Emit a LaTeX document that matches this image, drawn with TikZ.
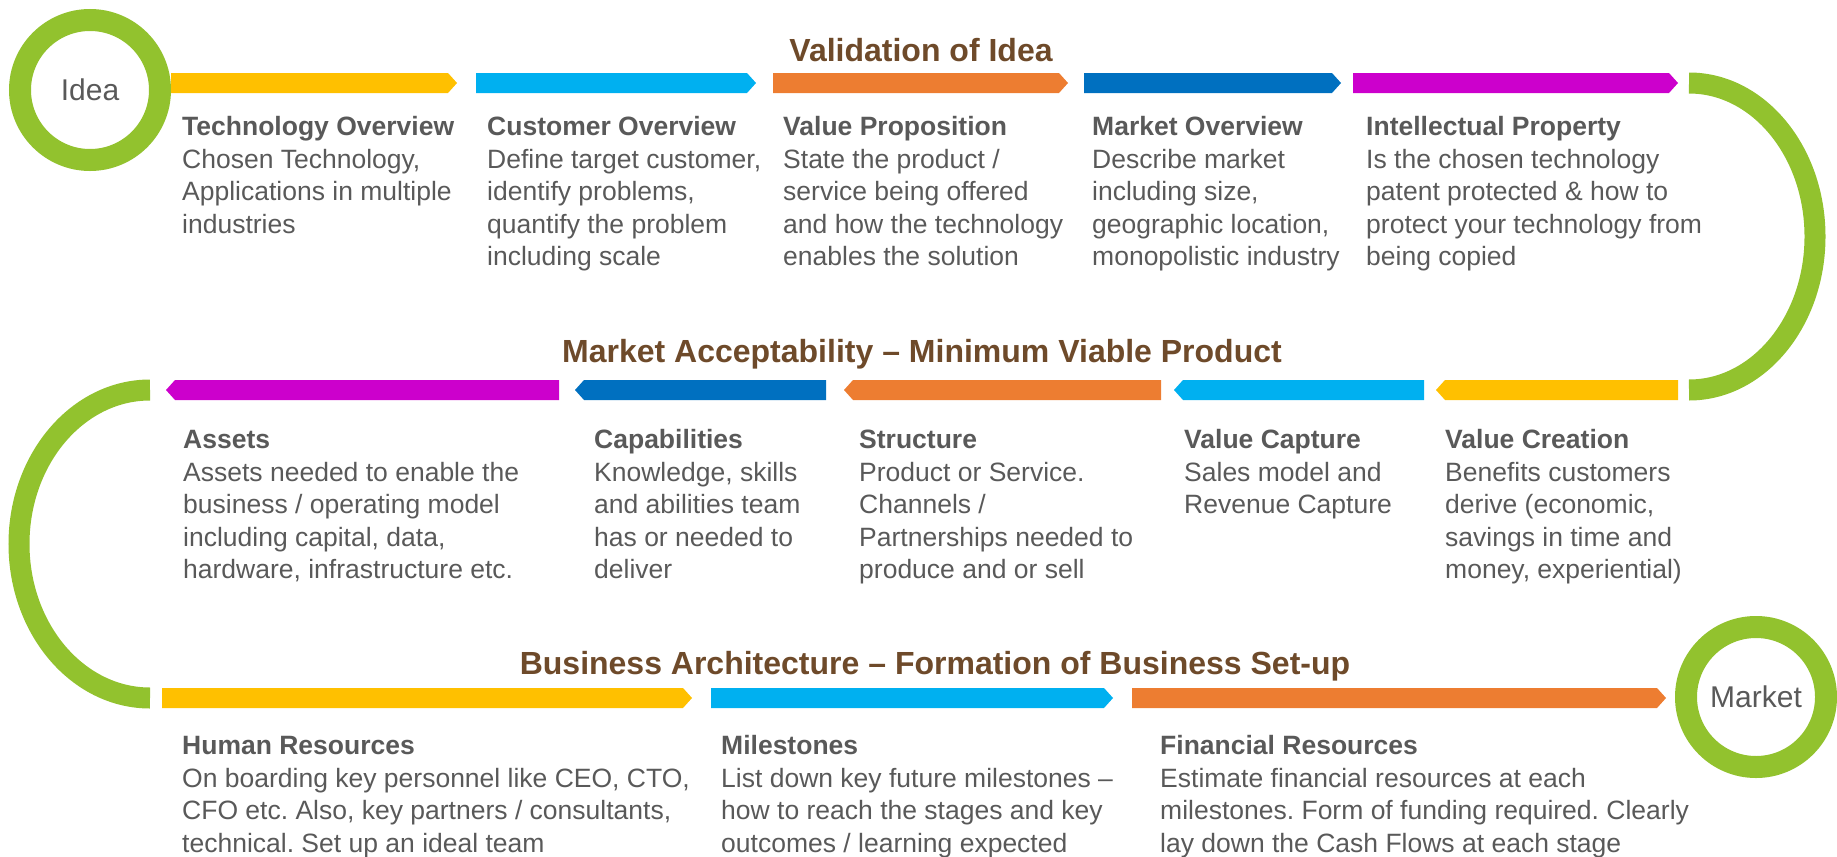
\documentclass[tikz,border=0pt]{standalone}
\usepackage{fontspec}
\setmainfont{Liberation Sans}
\frenchspacing
\definecolor{ink}{HTML}{595959}
\definecolor{brownT}{HTML}{6E4A2A}
\definecolor{leaf}{HTML}{92C22E}
\definecolor{cYel}{HTML}{FFC000}
\definecolor{cCya}{HTML}{00B0F0}
\definecolor{cOra}{HTML}{ED7D31}
\definecolor{cBlu}{HTML}{0070C0}
\definecolor{cMag}{HTML}{CC00CC}
\newcommand\RBar[4]{\fill[#1] (#2,#4-10) -- (#3-9,#4-10) -- (#3,#4) -- (#3-9,#4+10) -- (#2,#4+10) -- cycle;}
\newcommand\LBar[4]{\fill[#1] (#2,#4) -- (#2+9,#4-10) -- (#3,#4-10) -- (#3,#4+10) -- (#2+9,#4+10) -- cycle;}
\begin{document}
\begin{tikzpicture}[x=1bp,y=-1bp,
  body/.style={anchor=north west, inner sep=0pt, align=left, text=ink, font=\fontsize{26.5bp}{32.5bp}\selectfont},
  title/.style={anchor=base, inner sep=0pt, text=brownT, font=\bfseries\fontsize{32bp}{38bp}\selectfont},
  ringnode/.style={circle, draw=leaf, line width=22bp, minimum size=140bp, inner sep=0pt, text=ink, font=\fontsize{30bp}{36bp}\selectfont},
  loop/.style={draw=leaf, line width=21bp}]
\useasboundingbox (0,0) rectangle (1837,857);

% circles
\node[ringnode] (idea) at (90,90) {Idea};
\node[ringnode] (market) at (1756,697) {Market};

% loops
\coordinate (r1) at (1689,83);
\coordinate (l1) at (150,390);
\draw[loop] (r1) arc[start angle=-90, end angle=90, x radius=126, y radius=153.5];
\draw[loop] (l1) arc[start angle=-90, end angle=-270, x radius=131, y radius=154];

% titles
\node[title] (t1) at (921,61.5) {Validation of Idea};
\node[title] (t2) at (922,362.5) {Market Acceptability -- Minimum Viable Product};
\node[title] (t3) at (935,674.5) {Business Architecture -- Formation of Business Set-up};

% row 1 bars
\RBar{cYel}{171}{457}{83}
\RBar{cCya}{476}{756}{83}
\RBar{cOra}{773}{1068}{83}
\RBar{cBlu}{1084}{1341}{83}
\RBar{cMag}{1353}{1678}{83}

% row 2 bars
\LBar{cMag}{166}{559}{390}
\LBar{cBlu}{575}{826}{390}
\LBar{cOra}{844}{1161}{390}
\LBar{cCya}{1174}{1424}{390}
\LBar{cYel}{1436}{1678}{390}

% row 3 bars
\RBar{cYel}{162}{692}{698}
\RBar{cCya}{711}{1113}{698}
\RBar{cOra}{1132}{1666}{698}

% row 1 texts
\node[body] (a1) at (182,113) {\strut\textbf{Technology Overview}\\Chosen Technology,\\Applications in multiple\\industries};
\node[body] (a2) at (487,113) {\strut\textbf{Customer Overview}\\Define target customer,\\identify problems,\\quantify the problem\\including scale};
\node[body] (a3) at (783,113) {\strut\textbf{Value Proposition}\\State the product /\\service being offered\\and how the technology\\enables the solution};
\node[body] (a4) at (1092,113) {\strut\textbf{Market Overview}\\Describe market\\including size,\\geographic location,\\monopolistic industry};
\node[body] (a5) at (1366,113) {\strut\textbf{Intellectual Property}\\Is the chosen technology\\patent protected \& how to\\protect your technology from\\being copied};

% row 2 texts
\node[body] (b1) at (183,426) {\strut\textbf{Assets}\\Assets needed to enable the\\business / operating model\\including capital, data,\\hardware, infrastructure etc.};
\node[body] (b2) at (594,426) {\strut\textbf{Capabilities}\\Knowledge, skills\\and abilities team\\has or needed to\\deliver};
\node[body] (b3) at (859,426) {\strut\textbf{Structure}\\Product or Service.\\Channels /\\Partnerships needed to\\produce and or sell};
\node[body] (b4) at (1184,426) {\strut\textbf{Value Capture}\\Sales model and\\Revenue Capture};
\node[body] (b5) at (1445,426) {\strut\textbf{Value Creation}\\Benefits customers\\derive (economic,\\savings in time and\\money, experiential)};

% row 3 texts
\node[body] (c1) at (182,732) {\strut\textbf{Human Resources}\\On boarding key personnel like CEO, CTO,\\CFO etc. Also, key partners / consultants,\\technical. Set up an ideal team};
\node[body] (c2) at (721,732) {\strut\textbf{Milestones}\\List down key future milestones --\\how to reach the stages and key\\outcomes / learning expected};
\node[body] (c3) at (1160,732) {\strut\textbf{Financial Resources}\\Estimate financial resources at each\\milestones. Form of funding required. Clearly\\lay down the Cash Flows at each stage};
\end{tikzpicture}
\end{document}
